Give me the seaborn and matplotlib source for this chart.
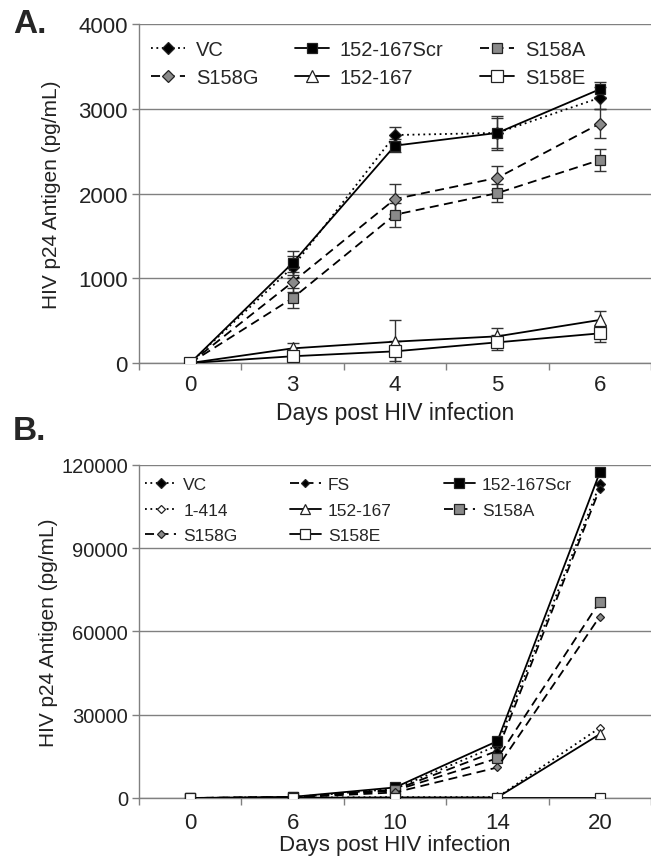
import numpy as np
import pandas as pd
import matplotlib
matplotlib.use("Agg")
import matplotlib.pyplot as plt
import seaborn as sns

# ---------------- data ----------------
days_a = ["0", "3", "4", "5", "6"]
a_vc = [0, 1130, 2690, 2715, 3130]
a_scr = [0, 1180, 2565, 2715, 3230]
a_s158a = [0, 765, 1750, 2005, 2395]
a_s158g = [0, 955, 1935, 2185, 2825]
a_152 = [0, 173, 252, 315, 508]
a_s158e = [0, 80, 138, 244, 350]
a_vc_err = [0, 130, 90, 200, 130]
a_scr_err = [0, 140, 80, 180, 90]
a_s158a_err = [0, 115, 140, 105, 130]
a_s158g_err = [0, 120, 175, 145, 170]
a_152_err = [0, 60, 260, 100, 100]
a_s158e_err = [0, 50, 120, 90, 100]

days_b = ["0", "6", "10", "14", "20"]
b_vc = [0, 300, 3300, 18900, 113000]
b_fs = [0, 300, 3000, 17000, 111500]
b_scr = [0, 400, 3800, 20500, 117300]
b_1414 = [0, 150, 300, 300, 25300]
b_152 = [0, 100, 200, 200, 23000]
b_s158a = [0, 300, 2700, 14300, 70800]
b_s158g = [0, 200, 2000, 11000, 65400]
b_s158e = [0, 0, 0, 0, 0]

sns.set_theme(style="white")
plt.rcParams["font.family"] = ["Liberation Sans", "DejaVu Sans"]

fig = plt.figure(figsize=(6.51, 8.62), dpi=100)
axA = fig.add_axes([0.2135, 0.5777, 0.7865, 0.3933])
axB = fig.add_axes([0.2135, 0.0731, 0.7865, 0.3863])

DOT = (0, (1, 2.0))
DASH = (0, (5, 3))
SOLID = "-"
GRAYM = "#8a8a8a"

def draw(ax, cats, vals, name, ls, marker, mfc, ms, err=None, lw=1.3):
    df = pd.DataFrame({"x": np.arange(len(cats)), "y": vals})
    sns.lineplot(data=df, x="x", y="y", ax=ax, color="black", linestyle=ls,
                 linewidth=lw, marker=marker, markersize=ms,
                 markerfacecolor=mfc, markeredgecolor="#222222",
                 markeredgewidth=0.9, label=name, zorder=3)
    if err is not None:
        ax.errorbar(df["x"], df["y"], yerr=err, fmt="none", ecolor="#333333",
                    elinewidth=1.0, capsize=4, capthick=1.0, zorder=2)

# Panel A
draw(axA, days_a, a_vc, "VC", DOT, "D", "black", 6.5, a_vc_err)
draw(axA, days_a, a_scr, "152-167Scr", SOLID, "s", "black", 7.5, a_scr_err)
draw(axA, days_a, a_s158a, "S158A", DASH, "s", GRAYM, 7.5, a_s158a_err)
draw(axA, days_a, a_s158g, "S158G", DASH, "D", GRAYM, 6.5, a_s158g_err)
draw(axA, days_a, a_152, "152-167", SOLID, "^", "white", 8, a_152_err)
draw(axA, days_a, a_s158e, "S158E", SOLID, "s", "white", 8, a_s158e_err)

# Panel B
draw(axB, days_b, b_vc, "VC", DOT, "D", "black", 5)
draw(axB, days_b, b_fs, "FS", DASH, "D", "black", 4.5)
draw(axB, days_b, b_scr, "152-167Scr", SOLID, "s", "black", 6.5)
draw(axB, days_b, b_1414, "1-414", DOT, "D", "white", 4.5)
draw(axB, days_b, b_152, "152-167", SOLID, "^", "white", 6.5)
draw(axB, days_b, b_s158a, "S158A", DASH, "s", GRAYM, 6.5)
draw(axB, days_b, b_s158g, "S158G", DASH, "D", GRAYM, 4)
draw(axB, days_b, b_s158e, "S158E", SOLID, "s", "white", 6.5)

def style(ax, cats, ymax, ystep, tsize, xpad, xlsize, xlabelpad, ylabelpad):
    ax.set_xlim(-0.5, len(cats) - 0.5)
    ax.set_ylim(0, ymax)
    ax.set_yticks(np.arange(0, ymax + 1, ystep))
    ax.set_yticklabels([f"{int(v)}" for v in np.arange(0, ymax + 1, ystep)])
    ax.set_xticks(np.arange(len(cats)))
    ax.set_xticklabels(cats)
    ax.set_xticks(np.arange(-0.5, len(cats) + 0.5, 1), minor=True)
    ax.tick_params(axis="x", which="major", length=0, pad=xpad, labelsize=16, colors="#222222")
    ax.tick_params(axis="x", which="minor", length=5, width=1, color="#808080", direction="out", bottom=True)
    ax.tick_params(axis="y", which="major", length=5, width=1, color="#808080", direction="out", left=True, pad=3, labelsize=tsize, labelcolor="#222222")
    ax.grid(axis="y", color="#808080", linewidth=1.0)
    ax.grid(axis="x", visible=False)
    for s in ["top", "right"]:
        ax.spines[s].set_visible(False)
    for s in ["left", "bottom"]:
        ax.spines[s].set_color("#808080")
        ax.spines[s].set_linewidth(1.0)
    ax.set_xlabel("Days post HIV infection", fontsize=xlsize, labelpad=xlabelpad, color="#222222")
    ax.set_ylabel("HIV p24 Antigen (pg/mL)", fontsize=15, labelpad=ylabelpad, color="#222222")
    ax.set_axisbelow(True)

style(axA, days_a, 4000, 1000, 16, 8, 16.5, 4, 12.5)
style(axB, days_b, 120000, 30000, 14.5, 10, 16, 0.5, 2)

# legends (row-major order via column-major reordering)
hA, lA = axA.get_legend_handles_labels()
dA = dict(zip(lA, hA))
orderA = ["VC", "S158G", "152-167Scr", "152-167", "S158A", "S158E"]
axA.legend([dA[k] for k in orderA], orderA, ncol=3, loc="upper left",
           bbox_to_anchor=(-0.005, 0.995), frameon=False, fontsize=14.5,
           handlelength=1.7, handletextpad=0.55, columnspacing=1.8,
           labelspacing=0.45, borderaxespad=0.3)

hB, lB = axB.get_legend_handles_labels()
dB = dict(zip(lB, hB))
orderB = ["VC", "1-414", "S158G", "FS", "152-167", "S158E", "152-167Scr", "S158A"]
axB.legend([dB[k] for k in orderB], orderB, ncol=3, loc="upper left",
           bbox_to_anchor=(-0.012, 1.0), frameon=False, fontsize=12.5,
           handlelength=1.8, handletextpad=0.4, columnspacing=3.0,
           labelspacing=0.6, borderaxespad=0.3)

fig.text(0.02, 0.972, "A.", fontsize=24, fontweight="bold", va="center", ha="left")
fig.text(0.02, 0.499, "B.", fontsize=24, fontweight="bold", va="center", ha="left")

fig.savefig("out.png", dpi=100)
